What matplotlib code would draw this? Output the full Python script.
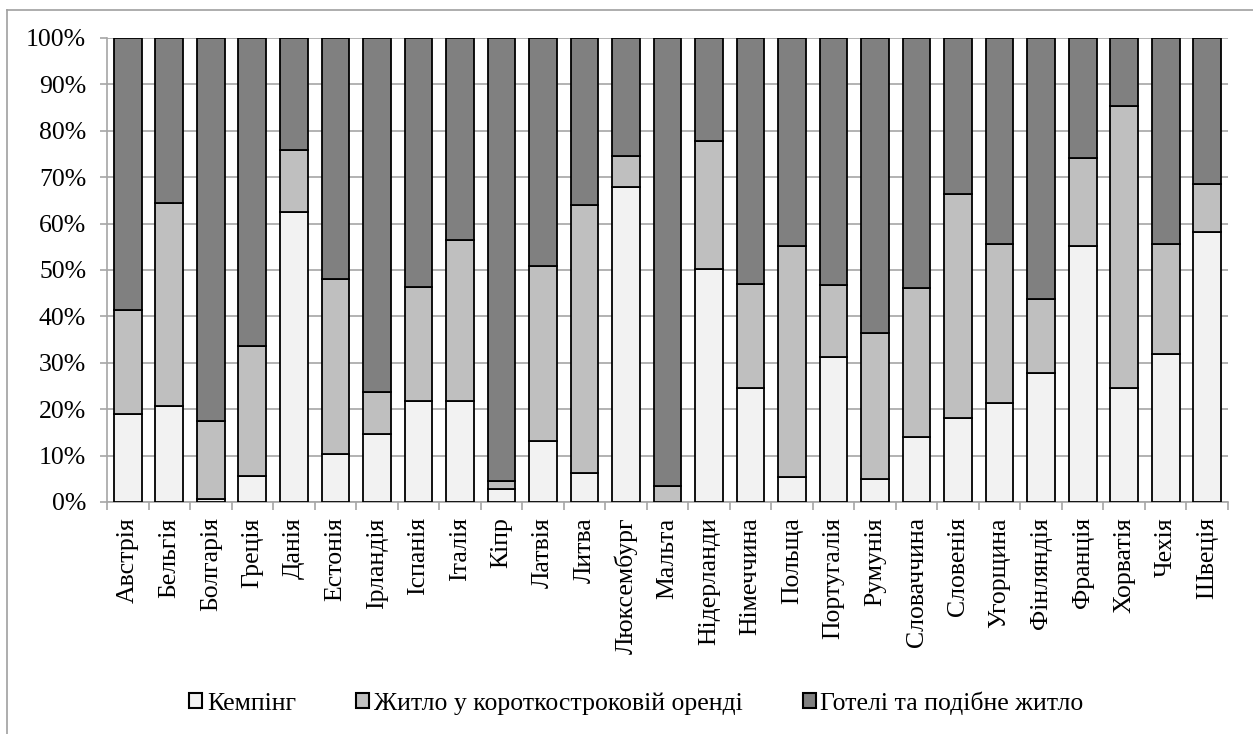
import numpy as np
import matplotlib
matplotlib.use('Agg')
import matplotlib.pyplot as plt
from matplotlib.lines import Line2D
from matplotlib.patches import Patch

plt.rcParams['font.family'] = ['Liberation Serif', 'DejaVu Serif']

# countries and shares (%)
countries = ['Австрія', 'Бельгія', 'Болгарія', 'Греція', 'Данія', 'Естонія', 'Ірландія',
             'Іспанія', 'Італія', 'Кіпр', 'Латвія', 'Литва', 'Люксембург', 'Мальта',
             'Нідерланди', 'Німеччина', 'Польща', 'Португалія', 'Румунія', 'Словаччина',
             'Словенія', 'Угорщина', 'Фінляндія', 'Франція', 'Хорватія', 'Чехія', 'Швеція']
camping = [19.0, 20.6, 0.7, 5.7, 62.4, 10.3, 14.6, 21.8, 21.7, 2.9, 13.1, 6.3, 67.9, 0.0,
           50.3, 24.5, 5.4, 31.2, 4.9, 14.1, 18.2, 21.4, 27.8, 55.2, 24.5, 32.0, 58.2]
# cumulative top of the short-term rental segment
rental_top = [41.3, 64.4, 17.5, 33.6, 75.9, 48.0, 23.7, 46.4, 56.5, 4.5, 50.9, 64.0, 74.6, 3.5,
              77.9, 46.9, 55.2, 46.8, 36.4, 46.1, 66.3, 55.5, 43.8, 74.2, 85.3, 55.7, 68.5]

series_names = ['Кемпінг', 'Житло у короткостроковій оренді', 'Готелі та подібне житло']
colors = ['#f2f2f2', '#bfbfbf', '#808080']

camping = np.array(camping)
rental = np.array(rental_top) - camping
hotels = 100 - np.array(rental_top)

fig = plt.figure(figsize=(12.53, 7.34), dpi=100)
ax = fig.add_axes([107/1253, 1 - 502/734, (1228-107)/1253, (502-38)/734])

x = np.arange(len(countries))
w = 0.667
kw = dict(width=w, edgecolor='black', linewidth=1.3, zorder=3)
ax.bar(x, camping, color=colors[0], **kw)
ax.bar(x, rental, bottom=camping, color=colors[1], **kw)
ax.bar(x, hotels, bottom=camping + rental, color=colors[2], **kw)

ax.set_xlim(-0.5, len(countries) - 0.5)
ax.set_ylim(0, 100)
ax.set_yticks(np.arange(0, 101, 10))
ax.set_yticklabels([f'{v}%' for v in range(0, 101, 10)], fontsize=18.5)
ax.yaxis.grid(True, color='#a6a6a6', linewidth=1.2, zorder=0)
ax.set_axisbelow(True)

ax.set_xticks(x)
ax.set_xticklabels(countries, rotation=90, fontsize=18.5)
ax.set_xticks(np.arange(-0.5, len(countries)), minor=True)
ax.tick_params(axis='x', which='major', length=0, pad=11)
ax.tick_params(axis='x', which='minor', length=6, color='#a6a6a6', width=1.2)
ax.tick_params(axis='y', length=5, color='#a6a6a6', width=1.2, pad=10)

for s in ['top', 'right']:
    ax.spines[s].set_visible(False)
for s in ['left', 'bottom']:
    ax.spines[s].set_color('#a6a6a6')
    ax.spines[s].set_linewidth(1.2)

handles = [Patch(facecolor=c, edgecolor='black', linewidth=1.5) for c in colors]
fig.legend(handles, series_names, loc='center', bbox_to_anchor=(0.508, 1 - 703/734),
           ncol=3, frameon=False, fontsize=18.5, handlelength=0.5, handleheight=0.5,
           handletextpad=0.18, columnspacing=2.35, borderaxespad=0)

# chart border (only top and left are visible in the picture)
fig.add_artist(Line2D([7/1253, 1], [1 - 10/734, 1 - 10/734], color='#a0a0a0', linewidth=1.2))
fig.add_artist(Line2D([7/1253, 7/1253], [0, 1 - 10/734], color='#a0a0a0', linewidth=1.2))

fig.savefig('out.png', dpi=100)
